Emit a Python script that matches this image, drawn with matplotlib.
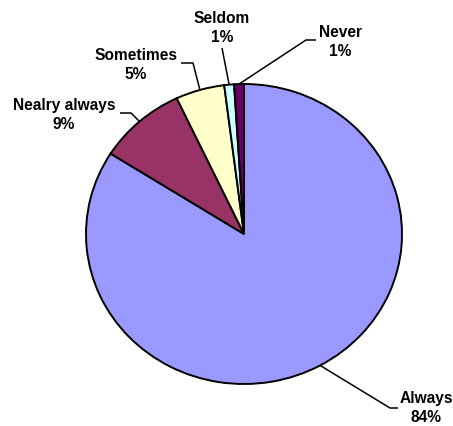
import numpy as np
import matplotlib.pyplot as plt

# Answer shares (percent), clockwise from 12 o'clock
labels = ["Always", "Nealry always", "Sometimes", "Seldom", "Never"]
shares = [84, 9, 5, 1, 1]
colors = ["#9999FF", "#993366", "#FFFFCC", "#CCFFFF", "#660066"]

W, H = 453, 426
CX, CY = 244, 234      # pie centre in pixels
RX, RY = 158, 150      # pie radii in pixels (slightly stretched)


def to_data(x, y):
    return (x - CX) / RX, (CY - y) / RY


# label block centres and leader elbows, in pixels
label_pos = [(426, 408), (64, 115), (136, 65), (222, 28), (340, 42)]
elbows = [[(390, 408), (398, 408)],
          [(131, 113), (120, 113)],
          [(193, 63), (181, 63)],
          [(222, 48)],
          [(306, 40), (316, 40)]]

fig = plt.figure(figsize=(W / 100, H / 100), dpi=100)
ax = fig.add_axes([0, 0, 1, 1])
ax.pie(shares, colors=colors, startangle=90, counterclock=False,
       wedgeprops=dict(edgecolor="black", linewidth=1.4))
ax.set_aspect("auto")
ax.set_xlim(-CX / RX, (W - CX) / RX)
ax.set_ylim(-(H - CY) / RY, CY / RY)
ax.axis("off")

# leader lines from the middle of each slice's rim
start = 90.0
for name, val, pos, elbow in zip(labels, shares, label_pos, elbows):
    mid = np.deg2rad(start - val / sum(shares) * 360 / 2)
    start -= val / sum(shares) * 360
    xs = [np.cos(mid)] + [to_data(*p)[0] for p in elbow]
    ys = [np.sin(mid)] + [to_data(*p)[1] for p in elbow]
    ax.plot(xs, ys, color="black", lw=1.1, solid_capstyle="butt")
    tx, ty = to_data(*pos)
    ax.text(tx, ty, f"{name}\n{val}%", ha="center", va="center",
            fontsize=11.2, fontweight="bold", family="Liberation Sans",
            linespacing=1.4)

fig.savefig("out.png", dpi=100)
